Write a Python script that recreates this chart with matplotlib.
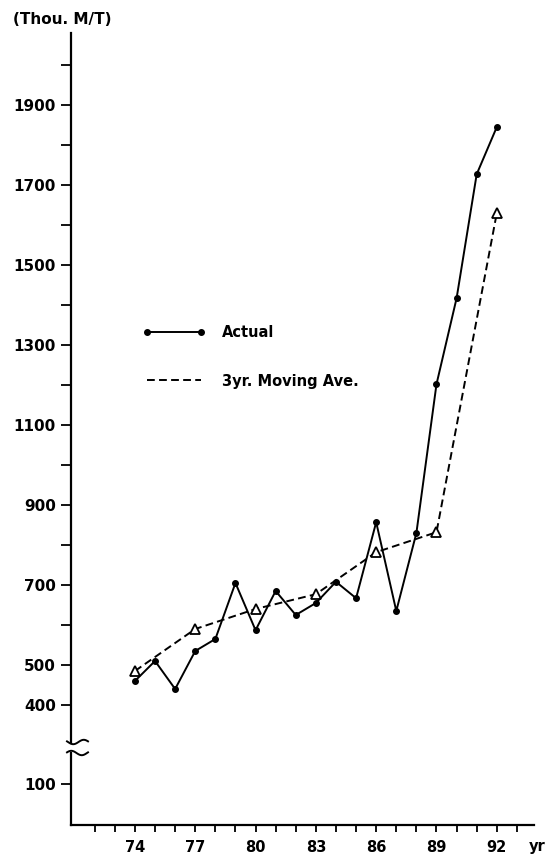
import matplotlib
matplotlib.use('Agg')
import matplotlib.pyplot as plt
from matplotlib.lines import Line2D
import numpy as np

# ---- data ----
years = [74, 75, 76, 77, 78, 79, 80, 81, 82, 83, 84, 85, 86, 87, 88, 89, 90, 91, 92]
actual = [460, 510, 440, 535, 565, 705, 587, 685, 625, 655, 708, 667, 857, 635, 830, 1202, 1417, 1727, 1845]
ma_years = [74, 77, 80, 83, 86, 89, 92]
ma_values = [485, 590, 640, 677, 782, 832, 1630]
y_major = [400, 500, 700, 900, 1100, 1300, 1500, 1700, 1900]
y_minor = [600, 800, 1000, 1200, 1400, 1600, 1800, 2000]
low_ticks = [100]
x_labels = [74, 77, 80, 83, 86, 89, 92]
x_ticks_all = list(range(72, 94))

W, H = 548, 859
fig = plt.figure(figsize=(W / 100, H / 100), dpi=100)


def rect(l, t, r, b):
    return [l / W, 1 - b / H, (r - l) / W, (b - t) / H]


FONT = dict(family='DejaVu Sans', weight='bold')

ax = fig.add_axes(rect(71, 33, 534, 743))
axl = fig.add_axes(rect(71, 753, 534, 825), sharex=ax)

ax.set_xlim(70.82, 93.85)
ax.set_ylim(305, 2080)
axl.set_ylim(0, 176)

for a in (ax, axl):
    for s in ('top', 'right'):
        a.spines[s].set_visible(False)
    a.spines['left'].set_linewidth(1.6)
    a.patch.set_visible(False)
ax.spines['bottom'].set_visible(False)
axl.spines['bottom'].set_linewidth(1.6)

# upper y ticks
ax.set_yticks(y_major)
ax.set_yticklabels([str(v) for v in y_major], fontsize=11, **FONT)
ax.set_yticks(y_minor, minor=True)
ax.tick_params(axis='y', which='both', direction='out', length=7, width=1.3, pad=4)
ax.tick_params(axis='x', which='both', bottom=False, labelbottom=False)

# lower y ticks
axl.set_yticks(low_ticks)
axl.set_yticklabels([str(v) for v in low_ticks], fontsize=11, **FONT)
axl.tick_params(axis='y', direction='out', length=7, width=1.3, pad=4)

# x ticks
axl.set_xticks(x_ticks_all, minor=True)
axl.set_xticks(x_labels)
axl.set_xticklabels([str(v) for v in x_labels], fontsize=10.5, **FONT)
axl.tick_params(axis='x', which='both', direction='out', length=5, width=1.3, pad=6)

# data
ax.plot(years, actual, color='black', lw=1.4, marker='o', ms=4, zorder=3)
ax.plot(ma_years, ma_values, color='black', lw=1.4, dashes=(4, 2.2),
        marker='^', ms=7, mfc='white', mec='black', mew=1.3, zorder=2)

# legend
h1 = Line2D([], [], color='black', lw=1.4, marker='o', ms=4)
h2 = Line2D([], [], color='black', lw=1.4, dashes=(4, 2.2))
leg = fig.legend([h1, h2], ['Actual', '3yr. Moving Ave.'], loc='upper left',
                 bbox_to_anchor=(143 / W, 1 - 325 / H), frameon=False,
                 numpoints=2, handlelength=4.3, handletextpad=1.1,
                 labelspacing=2.3, borderpad=0, borderaxespad=0,
                 prop=dict(family='DejaVu Sans', weight='bold', size=10.5))

# texts
fig.text(13 / W, 1 - 20 / H, '(Thou. M/T)', ha='left', va='center', fontsize=11, **FONT)
fig.text(529 / W, 1 - 847 / H, 'yr', ha='left', va='center', fontsize=10.5, **FONT)

# axis break marks
t = np.linspace(0, 1, 40)
xs = 67 + 21 * t
y1 = 742 + 2.2 * np.sin(2 * np.pi * t - 0.3)
y2 = 753 - 2.2 * np.sin(2 * np.pi * t + 0.3)
for yy in (y1, y2):
    fig.add_artist(Line2D(xs / W, 1 - yy / H, color='black', lw=1.4, transform=fig.transFigure))

fig.savefig('out.png', dpi=100)
